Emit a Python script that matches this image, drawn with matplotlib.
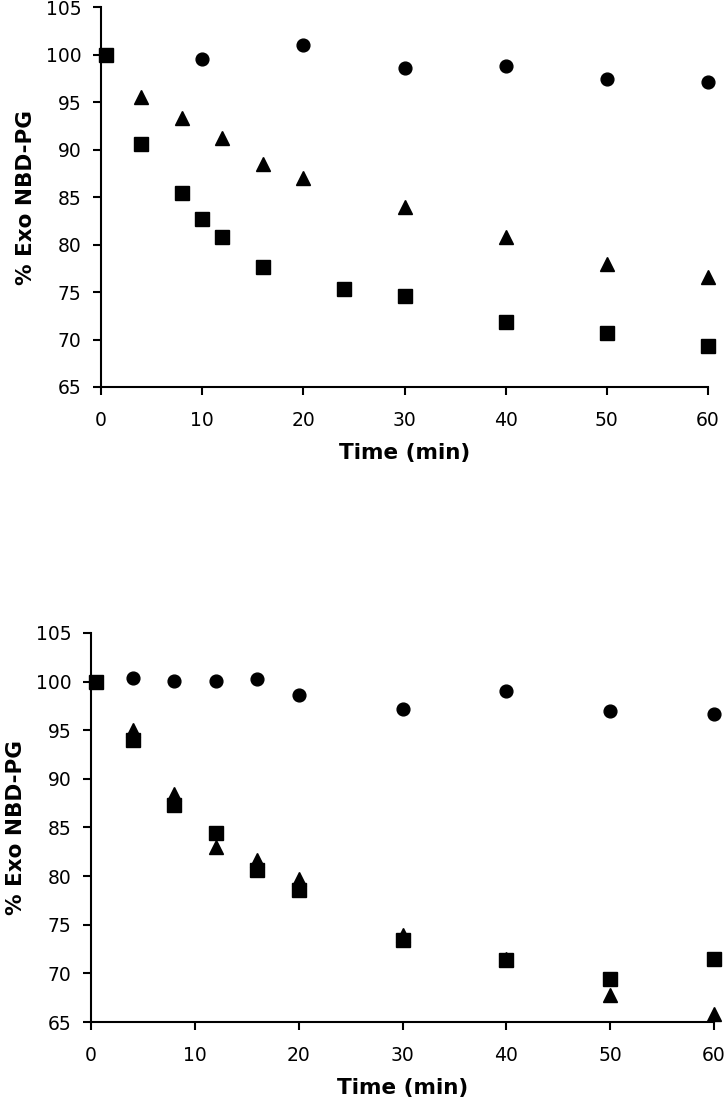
import matplotlib
matplotlib.use("Agg")
import matplotlib.pyplot as plt

plt.rcParams['font.family'] = ['DejaVu Sans']

# Top panel data
top_circle_t = [10, 20, 30, 40, 50, 60]
top_circle_v = [99.6, 101.1, 98.6, 98.8, 97.5, 97.2]
top_tri_t = [4, 8, 12, 16, 20, 30, 40, 50, 60]
top_tri_v = [95.6, 93.4, 91.2, 88.5, 87.0, 84.0, 80.8, 78.0, 76.6]
top_sq_t = [0.5, 4, 8, 10, 12, 16, 24, 30, 40, 50, 60]
top_sq_v = [100.0, 90.6, 85.5, 82.7, 80.8, 77.6, 75.3, 74.6, 71.8, 70.7, 69.3]

# Bottom panel data
bot_circle_t = [4, 8, 12, 16, 20, 30, 40, 50, 60]
bot_circle_v = [100.4, 100.05, 100.05, 100.3, 98.6, 97.2, 99.05, 97.0, 96.7]
bot_tri_t = [4, 8, 12, 16, 20, 30, 40, 50, 60]
bot_tri_v = [95.0, 88.4, 83.0, 81.7, 79.7, 73.9, 71.5, 67.8, 65.8]
bot_sq_t = [0.5, 4, 8, 12, 16, 20, 30, 40, 50, 60]
bot_sq_v = [100.0, 94.0, 87.3, 84.4, 80.6, 78.6, 73.4, 71.4, 69.4, 71.5]

x_ticks = [0, 10, 20, 30, 40, 50, 60]
y_ticks = [65, 70, 75, 80, 85, 90, 95, 100, 105]
xlabel = "Time (min)"
ylabel = "% Exo NBD-PG"

W, H = 727, 1106
fig = plt.figure(figsize=(W / 100, H / 100), dpi=100)

def make_ax(left, right, top, bottom):
    return fig.add_axes([left / W, 1 - bottom / H, (right - left) / W, (bottom - top) / H])

ax1 = make_ax(101, 708, 7.5, 387)
ax2 = make_ax(91, 714, 633, 1022)

panels = [
    (ax1, top_circle_t, top_circle_v, top_tri_t, top_tri_v, top_sq_t, top_sq_v),
    (ax2, bot_circle_t, bot_circle_v, bot_tri_t, bot_tri_v, bot_sq_t, bot_sq_v),
]

for ax, ct, cv, tt, tv, st, sv in panels:
    ax.plot(ct, cv, linestyle='none', marker='o', markersize=9.2, color='black', clip_on=False, zorder=3)
    ax.plot(tt, tv, linestyle='none', marker='^', markersize=10, color='black', clip_on=False, zorder=4)
    ax.plot(st, sv, linestyle='none', marker='s', markersize=10, color='black', clip_on=False, zorder=5)
    ax.set_xlim(0, 60)
    ax.set_ylim(65, 105)
    ax.set_xticks(x_ticks)
    ax.set_yticks(y_ticks)
    ax.spines['top'].set_visible(False)
    ax.spines['right'].set_visible(False)
    for s in ('left', 'bottom'):
        ax.spines[s].set_linewidth(1.5)
    ax.tick_params(direction='out', length=5.5, width=1.5, labelsize=13.5)
    ax.tick_params(axis='x', pad=12)
    ax.tick_params(axis='y', pad=8.5)
    ax.set_xlabel(xlabel, fontsize=15.5, fontweight='bold', labelpad=9)
    ax.set_ylabel(ylabel, fontsize=15.5, fontweight='bold', labelpad=7)

fig.savefig("out.png", dpi=100)
